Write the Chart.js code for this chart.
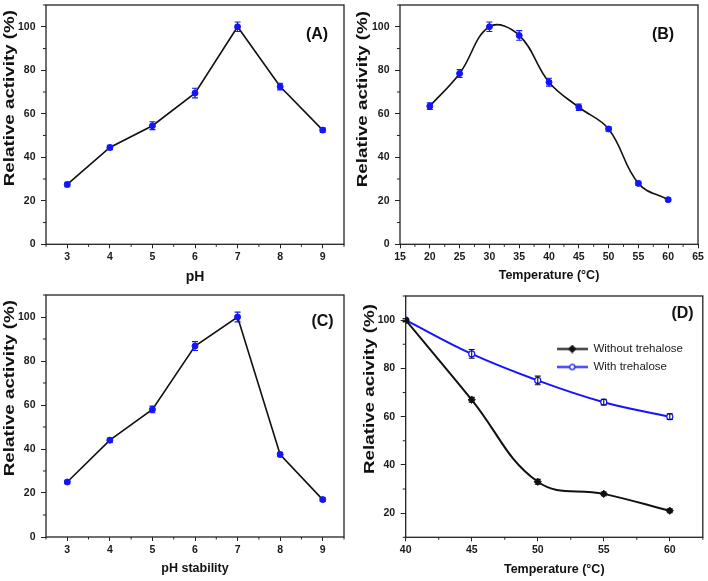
<!DOCTYPE html>
<html>
<head>
<meta charset="utf-8">
<title>Enzyme activity</title>
<script src="https://cdn.jsdelivr.net/npm/chart.js@4.4.1/dist/chart.umd.min.js"></script>
<style>
  html, body { margin: 0; padding: 0; background: #fff; }
  #wrap { position: relative; width: 708px; height: 581px; overflow: hidden; }
  canvas { position: absolute; }
</style>
</head>
<body>
<div id="wrap">
  <canvas id="chartA" width="354" height="290" style="left:0;top:0"></canvas>
  <canvas id="chartB" width="354" height="290" style="left:354px;top:0"></canvas>
  <canvas id="chartC" width="354" height="291" style="left:0;top:290px"></canvas>
  <canvas id="chartD" width="354" height="291" style="left:354px;top:290px"></canvas>
</div>
<script>
// (A) effect of pH
const phLevels = [3, 4, 5, 6, 7, 8, 9];
const phActivity = [27.5, 44.5, 54.5, 69.5, 100, 72.5, 52.5];
const phActivityErr = [1.0, 1.0, 1.8, 2.2, 2.2, 1.5, 1.0];

// (B) effect of temperature
const tempLevels = [20, 25, 30, 35, 40, 45, 50, 55, 60];
const tempActivity = [63.5, 78.5, 100, 96, 74.5, 63, 53, 28, 20.5];
const tempActivityErr = [1.5, 1.8, 2.2, 2.2, 1.8, 1.5, 1.0, 1.0, 0.8];

// (C) pH stability
const phStability = [25, 44, 58, 86.8, 100, 37.5, 17];
const phStabilityErr = [0.8, 1.0, 1.5, 2.0, 2.2, 1.0, 0.8];

// (D) thermostability with / without trehalose
const thermoTemps = [40, 45, 50, 55, 60];
const withoutTrehalose = [100, 67, 33, 28, 21];
const withoutTrehaloseErr = [0.6, 1.0, 1.0, 0.8, 0.8];
const withTrehalose = [100, 86, 75, 66, 60];
const withTrehaloseErr = [0.6, 1.8, 1.8, 1.2, 1.2];

// tick labels
const phTicks = [3, 4, 5, 6, 7, 8, 9];
const tempTicks = [15, 20, 25, 30, 35, 40, 45, 50, 55, 60, 65];
const thermoTicks = [40, 45, 50, 55, 60];
const activityTicks = [0, 20, 40, 60, 80, 100];
const residualTicks = [20, 40, 60, 80, 100];

const FONT = '"Liberation Sans", Arial, Helvetica, sans-serif';
const BLUE = '#1414ff';
Chart.defaults.font.family = FONT;
Chart.defaults.color = '#1a1a1a';

// minor ticks halfway between the labelled ones
function halfSteps(ticks, min, max) {
  const step = ticks[1] - ticks[0];
  const out = [];
  for (let v = ticks[0] - step / 2; v <= max + 1e-9; v += step) {
    if (v >= min - 1e-9) out.push(v);
  }
  return out;
}

const frame = {
  id: "frame",
  beforeDatasetsDraw(chart) {
    const { ctx, chartArea: a, scales: { x, y } } = chart;
    ctx.save();
    ctx.strokeStyle = "#222";
    ctx.lineWidth = 1;
    ctx.beginPath();
    halfSteps(x.ticks.map(t => t.value), x.min, x.max).forEach(v => {
      const px = x.getPixelForValue(v);
      ctx.moveTo(px, a.bottom);
      ctx.lineTo(px, a.bottom + 2.5);
    });
    halfSteps(y.ticks.map(t => t.value), y.min, y.max).forEach(v => {
      const py = y.getPixelForValue(v);
      ctx.moveTo(a.left - 3, py);
      ctx.lineTo(a.left, py);
    });
    ctx.stroke();
    ctx.lineWidth = 1.3;
    ctx.strokeRect(a.left, a.top, a.right - a.left, a.bottom - a.top);
    ctx.restore();
  }
};

const errorBars = {
  id: "errorBars",
  afterDatasetsDraw(chart) {
    const { ctx, scales: { x, y } } = chart;
    chart.data.datasets.forEach(ds => {
      if (!ds.errors) return;
      ctx.save();
      ctx.strokeStyle = ds.errorColor;
      ctx.lineWidth = 1.1;
      ds.data.forEach((p, j) => {
        const e = ds.errors[j];
        const px = x.getPixelForValue(p.x);
        const top = y.getPixelForValue(p.y + e);
        const bot = y.getPixelForValue(p.y - e);
        ctx.beginPath();
        ctx.moveTo(px, top); ctx.lineTo(px, bot);
        ctx.moveTo(px - 3, top); ctx.lineTo(px + 3, top);
        ctx.moveTo(px - 3, bot); ctx.lineTo(px + 3, bot);
        ctx.stroke();
      });
      ctx.restore();
    });
  }
};

const panelLabel = {
  id: "panelLabel",
  afterDraw(chart, args, opts) {
    const { ctx, chartArea: a } = chart;
    ctx.save();
    ctx.font = "bold 16px " + FONT;
    ctx.fillStyle = "#111";
    ctx.textAlign = "center";
    ctx.textBaseline = "middle";
    ctx.fillText(opts.text, a.right - opts.dx, a.top + opts.dy);
    ctx.restore();
  }
};

// the y titles in the figure are drawn long and narrow
const stretchYTitle = {
  id: "stretchYTitle",
  beforeDraw(chart, args, opts) {
    const s = chart.scales.y;
    if (s.$stretched) return;
    const orig = s.drawTitle;
    s.drawTitle = function () {
      const c = this.ctx;
      c.save();
      c.translate(0, this.top + opts.shift);
      c.scale(1, opts.factor);
      c.translate(0, -this.top);
      orig.call(this);
      c.restore();
    };
    s.$stretched = true;
  }
};

// legend sits inside the plot, upper right
const legendSpot = {
  id: "legendSpot",
  afterLayout(chart, args, opts) {
    const lg = chart.legend;
    if (!lg || !opts.dx) return;
    lg.left = chart.chartArea.left + opts.dx;
    lg.top = chart.chartArea.top + opts.dy;
  }
};

function legendGlyph(color, style, fill) {
  const c = document.createElement("canvas");
  c.width = 31;
  c.height = 9;
  const g = c.getContext("2d");
  g.strokeStyle = color;
  g.lineWidth = 2;
  g.beginPath();
  g.moveTo(0, 4.5);
  g.lineTo(31, 4.5);
  g.stroke();
  g.fillStyle = fill;
  g.lineWidth = 1.2;
  g.beginPath();
  if (style === "rectRot") {
    g.moveTo(15.5, 1); g.lineTo(19, 4.5); g.lineTo(15.5, 8); g.lineTo(12, 4.5);
    g.closePath();
  } else {
    g.arc(15.5, 4.5, 2.6, 0, Math.PI * 2);
  }
  g.fill();
  g.stroke();
  return c;
}

function series(xs, ys) {
  return xs.map((x, i) => ({ x: x, y: ys[i] }));
}

function blueSeries(xs, ys, errs, tension) {
  return {
    label: "activity",
    data: series(xs, ys),
    errors: errs,
    errorColor: BLUE,
    borderColor: "#111",
    borderWidth: 1.6,
    tension: tension,
    pointStyle: "circle",
    pointRadius: 3,
    pointBackgroundColor: BLUE,
    pointBorderColor: BLUE,
    pointBorderWidth: 1
  };
}

function makePanel(id, p) {
  return new Chart(document.getElementById(id), {
    type: "line",
    data: { datasets: p.datasets },
    options: {
      responsive: false,
      animation: false,
      devicePixelRatio: 1,
      events: [],
      layout: { padding: { top: p.padTop, right: p.padRight, left: 0, bottom: 0 } },
      scales: {
        x: {
          type: "linear",
          min: p.xMin,
          max: p.xMax,
          afterBuildTicks: s => { s.ticks = p.xTicks.map(v => ({ value: v })); },
          afterFit: s => {
            s.height = p.xAxisHeight;
            s.paddingLeft = 0;
            s.paddingRight = 0;
          },
          grid: { drawOnChartArea: false, drawTicks: true, tickLength: 4, color: "#222", lineWidth: 1 },
          border: { display: false },
          ticks: { padding: 3, autoSkip: false, maxRotation: 0, color: "#1a1a1a", font: { size: 10.5, weight: "bold" } },
          title: {
            display: true,
            text: p.xTitle,
            color: "#111",
            font: { size: p.xTitleSize, weight: "bold" },
            padding: { top: 0, bottom: p.xTitlePad }
          }
        },
        y: {
          type: "linear",
          min: p.yMin,
          max: p.yMax,
          afterBuildTicks: s => { s.ticks = p.yTicks.map(v => ({ value: v })); },
          afterFit: s => {
            s.width = p.yAxisWidth;
            s.paddingTop = 0;
            s.paddingBottom = 0;
          },
          grid: { drawOnChartArea: false, drawTicks: true, tickLength: 5, color: "#222", lineWidth: 1 },
          border: { display: false },
          ticks: { padding: 5.5, autoSkip: false, color: "#1a1a1a", font: { size: 10.5, weight: "bold" } },
          title: {
            display: true,
            text: p.yTitle,
            align: "end",
            color: "#111",
            font: { size: 14, weight: "bold" },
            padding: { top: p.yTitlePad, bottom: 0 }
          }
        }
      },
      plugins: {
        tooltip: { enabled: false },
        legend: p.legend || { display: false },
        panelLabel: p.label,
        stretchYTitle: { factor: 1.34, shift: p.yTitleShift },
        legendSpot: p.legendSpot || {}
      }
    },
    plugins: [frame, errorBars, panelLabel, stretchYTitle, legendSpot]
  });
}

makePanel("chartA", {
  datasets: [blueSeries(phLevels, phActivity, phActivityErr, 0)],
  xMin: 2.5, xMax: 9.5, xTicks: phTicks,
  yMin: 0, yMax: 110, yTicks: activityTicks,
  xTitle: "pH", xTitleSize: 14, xTitlePad: 4,
  yTitle: "Relative activity (%)", yTitlePad: 1.5, yTitleShift: 5,
  yAxisWidth: 46, xAxisHeight: 45.7, padTop: 4, padRight: 10,
  label: { text: "(A)", dx: 27, dy: 30 }
});

makePanel("chartB", {
  datasets: [blueSeries(tempLevels, tempActivity, tempActivityErr, 0.4)],
  xMin: 15, xMax: 65, xTicks: tempTicks,
  yMin: 0, yMax: 110, yTicks: activityTicks,
  xTitle: "Temperature (°C)", xTitleSize: 12.5, xTitlePad: 7,
  yTitle: "Relative activity (%)", yTitlePad: 1.2, yTitleShift: 6,
  yAxisWidth: 46, xAxisHeight: 45.7, padTop: 4, padRight: 10,
  label: { text: "(B)", dx: 35, dy: 30 }
});

makePanel("chartC", {
  datasets: [blueSeries(phLevels, phStability, phStabilityErr, 0)],
  xMin: 2.5, xMax: 9.5, xTicks: phTicks,
  yMin: 0, yMax: 110, yTicks: activityTicks,
  xTitle: "pH stability", xTitleSize: 12.5, xTitlePad: 4.5,
  yTitle: "Relative activity (%)", yTitlePad: 2, yTitleShift: 5,
  yAxisWidth: 46, xAxisHeight: 44, padTop: 5, padRight: 10,
  label: { text: "(C)", dx: 21.5, dy: 26.3 }
});

makePanel("chartD", {
  datasets: [
    {
      label: "Without trehalose",
      data: series(thermoTemps, withoutTrehalose),
      errors: withoutTrehaloseErr,
      errorColor: "#111",
      borderColor: "#111",
      borderWidth: 2,
      tension: 0.4,
      pointStyle: "rectRot",
      pointRadius: 3.6,
      pointBackgroundColor: "#111",
      pointBorderColor: "#111",
      pointBorderWidth: 1
    },
    {
      label: "With trehalose",
      data: series(thermoTemps, withTrehalose),
      errors: withTrehaloseErr,
      errorColor: "#111",
      borderColor: BLUE,
      borderWidth: 2,
      tension: 0.4,
      pointStyle: "circle",
      pointRadius: 3,
      pointBackgroundColor: "#fff",
      pointBorderColor: BLUE,
      pointBorderWidth: 1.2
    }
  ],
  xMin: 40, xMax: 62.5, xTicks: thermoTicks,
  yMin: 10, yMax: 110, yTicks: residualTicks,
  xTitle: "Temperature (°C)", xTitleSize: 12.5, xTitlePad: 4,
  yTitle: "Relative acivity (%)", yTitlePad: 8, yTitleShift: 8,
  yAxisWidth: 51.7, xAxisHeight: 43.7, padTop: 6, padRight: 3,
  label: { text: "(D)", dx: 20.3, dy: 17.3 },
  legend: {
    display: true,
    position: "chartArea",
    align: "start",
    labels: {
      usePointStyle: true,
      pointStyleWidth: 31,
      padding: 6.5,
      color: "#1a1a1a",
      font: { size: 11.5 },
      generateLabels: chart => {
        const glyphs = [legendGlyph("#111", "rectRot", "#111"), legendGlyph(BLUE, "circle", "#fff")];
        return chart.data.datasets.map((ds, i) => ({
          text: ds.label,
          pointStyle: glyphs[i],
          fillStyle: "transparent",
          strokeStyle: "transparent",
          lineWidth: 0,
          fontColor: "#1a1a1a",
          hidden: false,
          datasetIndex: i
        }));
      }
    }
  },
  legendSpot: { dx: 144.5, dy: 40.75 }
});
</script>
</body>
</html>
